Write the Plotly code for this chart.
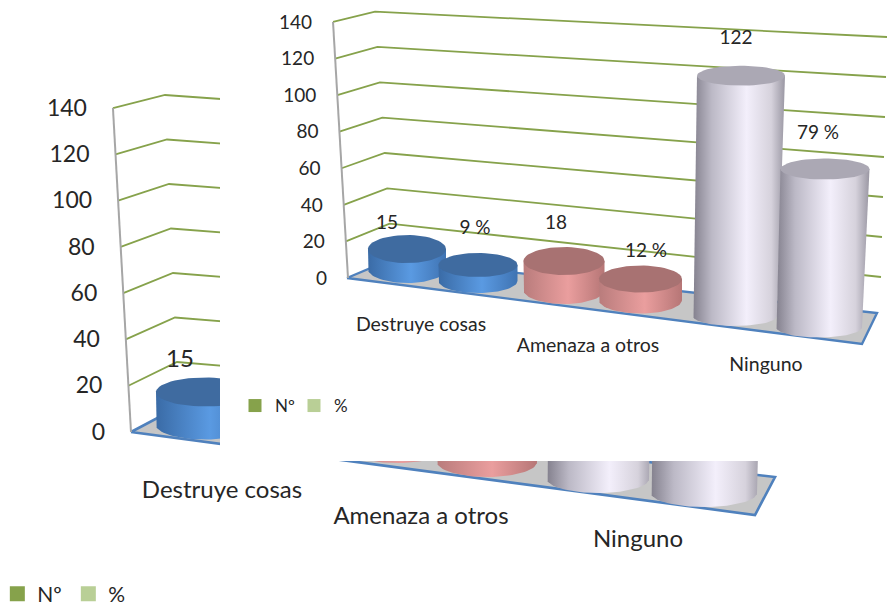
import numpy as np
import plotly.graph_objects as go

# ---- data ----
categories = ["Destruye cosas", "Amenaza a otros", "Ninguno"]
counts = [15, 18, 122]
percents = [9, 12, 79]
tick_values = [0, 20, 40, 60, 80, 100, 120, 140]
series_names = ["Nº", "%"]

# ---- styles ----
FONT = "Lato"
TXT = "#262626"
GREEN = "#86a24b"
GREEN2 = "#b9cf96"
BLUE_LINE = "#4f81bd"
GREY_AXIS = "#a6a6a6"
PLATE = "#c6c6c6"
W, H = 887, 605
TEXT_DROP_PX = 2

BODY = {
    "b": [[0, "#3a6ba6"], [0.55, "#5a9ae2"], [1, "#3f73b2"]],
    "r": [[0, "#b97c7c"], [0.55, "#ea9e9e"], [1, "#b67676"]],
    "w": [[0, "#85828f"], [0.2, "#bcb9c6"], [0.58, "#f3effb"], [0.85, "#d6d2dc"], [1, "#9a97a3"]],
}
CAP = {"b": "#3f6ba0", "r": "#a87272", "w": "#aba8b4"}


def make_view(zero, scale):
    return lambda p: (zero - p) / scale


front = make_view(278, 1.829)
back = make_view(432, 2.314)

fig = go.Figure()


def cylinder(value, g, conv, xa, ya, color):
    """g: (x top, x bottom, rx top, rx bottom, ry px, base px, px per unit)"""
    xt, xb, rt, rb, ry, base, k = g
    upp = conv(0) - conv(1)
    ry_u = ry * upp
    yb = conv(base)
    yt = yb + value * k * upp
    th = np.linspace(np.pi, 2 * np.pi, 40)
    sx = np.concatenate([[xt - rt], xb + rb * np.cos(th), [xt + rt], [xt - rt]])
    sy = np.concatenate([[yt], yb + ry_u * np.sin(th), [yt], [yt]])
    fig.add_trace(go.Scatter(x=sx, y=sy, xaxis=xa, yaxis=ya, mode="lines", line=dict(width=0),
                             fill="toself", fillgradient=dict(type="horizontal", colorscale=BODY[color]),
                             hoverinfo="skip", showlegend=False))
    th2 = np.linspace(0, 2 * np.pi, 60)
    fig.add_trace(go.Scatter(x=xt + rt * np.cos(th2), y=yt + ry_u * np.sin(th2), xaxis=xa, yaxis=ya,
                             mode="lines", line=dict(width=0), fill="toself", fillcolor=CAP[color],
                             hoverinfo="skip", showlegend=False))
    return yt


def frame(conv, xa, ya, ax0, ax_s, cx0, cx_s, cy0, cy_s, rx0, rx_s, ry0, ry_s, plate, lw):
    # plate
    px = [p[0] for p in plate] + [plate[0][0]]
    py = [conv(p[1]) for p in plate] + [conv(plate[0][1])]
    fig.add_trace(go.Scatter(x=px, y=py, xaxis=xa, yaxis=ya, mode="lines", fill="toself", fillcolor=PLATE,
                             line=dict(color=BLUE_LINE, width=lw), hoverinfo="skip", showlegend=False))
    # slanted grid lines, one per tick value
    for v in tick_values[1:]:
        fig.add_trace(go.Scatter(
            x=[ax0 - ax_s * v, cx0 - cx_s * v, rx0 + rx_s * v],
            y=[v, conv(cy0 - cy_s * v), conv(ry0 - ry_s * v)],
            xaxis=xa, yaxis=ya, mode="lines", line=dict(color=GREEN, width=1.8),
            hoverinfo="skip", showlegend=False))
    # value axis line
    fig.add_trace(go.Scatter(x=[ax0, ax0 - ax_s * 140], y=[0, 140], xaxis=xa, yaxis=ya, mode="lines",
                             line=dict(color=GREY_AXIS, width=2), hoverinfo="skip", showlegend=False))


def text(xs, ys, labels, xa, ya, size, pos="middle center"):
    conv = back if ya == "y" else front
    drop = TEXT_DROP_PX * (conv(0) - conv(1))
    fig.add_trace(go.Scatter(x=xs, y=[v - drop for v in ys], xaxis=xa, yaxis=ya, mode="text", text=labels,
                             textposition=pos, textfont=dict(family=FONT, size=size, color=TXT),
                             hoverinfo="skip", showlegend=False, cliponaxis=False))


# ---- back chart (partly hidden by the pasted front chart) ----
frame(back, "x", "y", 131, 0.129, 179, 0.1, 406.5, 2.225, 780, 0.0, 457.5, 2.275,
      [(131, 432), (755, 515), (775, 477), (179, 406.5)], 2.6)
back_geo = [
    [(205, 205, 49, 49, 14.5, 425, 2.2), (397, 397, 50, 50, 15, 448, 2.2), (602, 598, 52, 51, 14, 479, 2.45)],
    [(295, 295, 49, 49, 14.5, 435, 2.2), (487, 487, 50, 50, 15, 462, 2.2), (708, 704, 54, 53, 14, 493, 2.5)],
]
colors = ["b", "r", "w"]
for i in range(3):
    cylinder(counts[i], back_geo[0][i], back, "x", "y", colors[i])
    cylinder(percents[i], back_geo[1][i], back, "x", "y", colors[i])
text([131 - 0.129 * v - 26 for v in tick_values], tick_values, [str(v) for v in tick_values], "x", "y", 23, "middle left")
text([180], [back(359)], [str(counts[0])], "x", "y", 24)
text([222, 421, 638], [back(490), back(516), back(539)], categories, "x", "y", 24)

# ---- front chart ----
fig.add_trace(go.Scatter(x=[220, 887, 887, 220, 220], y=[front(0), front(0), front(461), front(461), front(0)],
                         xaxis="x2", yaxis="y2", mode="lines", line=dict(width=0), fill="toself",
                         fillcolor="white", hoverinfo="skip", showlegend=False))
frame(front, "x2", "y2", 348, 0.107, 392, 0.121, 259, 1.767, 880, 0.05, 317, 2.0,
      [(347, 278), (862, 344), (877, 313), (392, 259)], 2.4)
front_geo = [
    [(407, 407, 39, 39, 14, 269, 1.33), (564, 564, 40.5, 40.5, 14, 290, 1.61), (741, 735, 44, 42, 10, 316, 1.97)],
    [(478, 478, 39.5, 39.5, 12, 281, 1.78), (640.5, 640.5, 41.5, 41.5, 13.5, 300, 1.75), (825, 819, 44.5, 43, 10.5, 327, 2.0)],
]
for i in range(3):
    cylinder(counts[i], front_geo[0][i], front, "x2", "y2", colors[i])
    cylinder(percents[i], front_geo[1][i], front, "x2", "y2", colors[i])
text([348 - 0.107 * v - 21 for v in tick_values], tick_values, [str(v) for v in tick_values], "x2", "y2", 19, "middle left")
text([387, 556, 736], [front(222), front(222), front(37)], [str(v) for v in counts], "x2", "y2", 19)
text([475, 646, 818], [front(227), front(250), front(132)], [f"{v} %" for v in percents], "x2", "y2", 19)
text([421, 588, 766], [front(324), front(345), front(364)], categories, "x2", "y2", 19.5)

# ---- legends ----
for name, col in zip(series_names, [GREEN, GREEN2]):
    fig.add_trace(go.Scatter(x=[None], y=[None], mode="markers", name=name, legend="legend",
                             marker=dict(symbol="square", size=15, color=col)))
    fig.add_trace(go.Scatter(x=[None], y=[None], mode="markers", name=name, legend="legend2",
                             xaxis="x2", yaxis="y2",
                             marker=dict(symbol="square", size=13, color=col)))

axis = dict(visible=False, domain=[0, 1], fixedrange=True)
fig.update_layout(
    width=W, height=H, autosize=False,
    margin=dict(l=0, r=0, t=0, b=0, autoexpand=False),
    paper_bgcolor="white", plot_bgcolor="rgba(0,0,0,0)",
    xaxis=dict(axis, range=[0, W]),
    yaxis=dict(axis, range=[back(H), back(0)]),
    xaxis2=dict(axis, range=[0, W], anchor="y2"),
    yaxis2=dict(axis, range=[front(H), front(0)], anchor="x2"),
    legend=dict(orientation="h", x=-0.003, xanchor="left", y=1 - 594 / H, yanchor="middle",
                font=dict(family=FONT, size=21, color=TXT), bgcolor="rgba(0,0,0,0)", entrywidth=26,
                traceorder="normal"),
    legend2=dict(orientation="h", x=235 / W, xanchor="left", y=1 - 406 / H, yanchor="middle",
                 font=dict(family=FONT, size=17, color=TXT), bgcolor="rgba(0,0,0,0)", entrywidth=14,
                 traceorder="normal"),
)
fig.write_html("out.html", config=dict(displayModeBar=False),
               post_script="document.body.style.margin='0';")
